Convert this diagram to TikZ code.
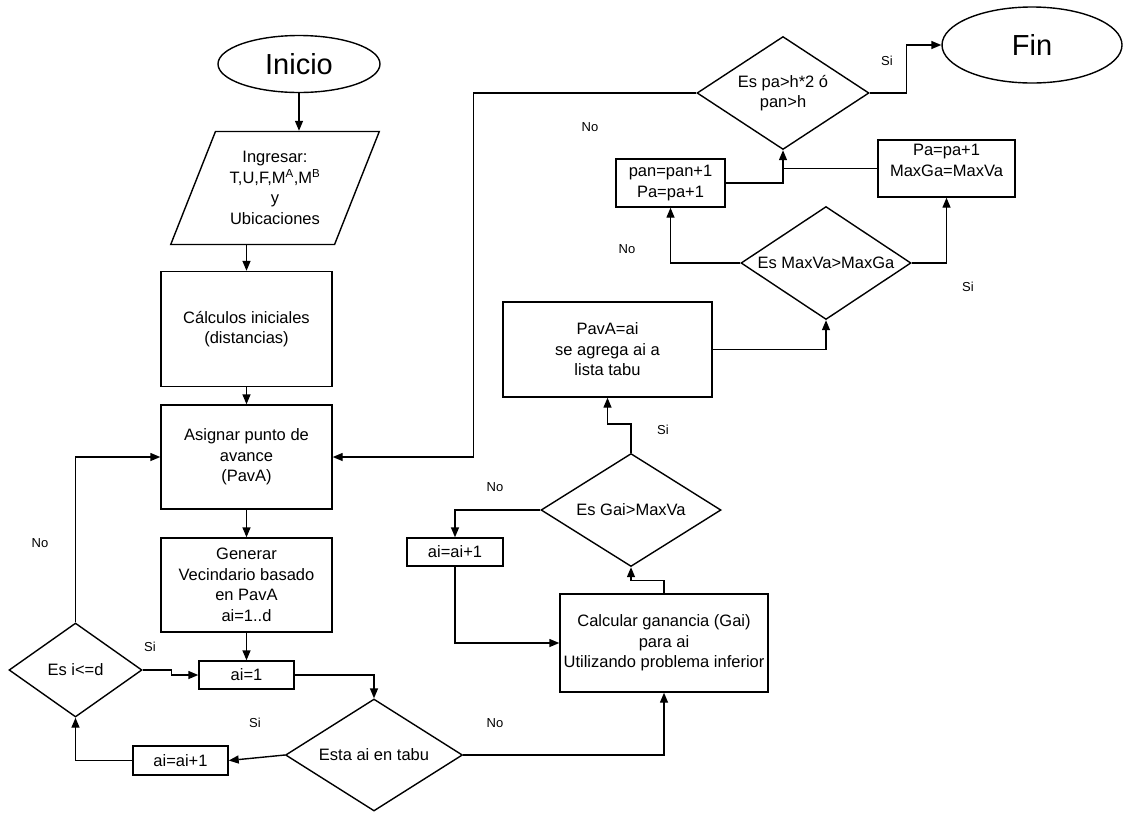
\documentclass[tikz,border=0pt]{standalone}
\usepackage{fontspec}
\setmainfont{Liberation Sans}
\usetikzlibrary{arrows.meta,shapes.geometric}

\begin{document}
\begin{tikzpicture}[
    x=1pt, y=-1pt,
    line width=1.4pt,
    every node/.style={font=\fontsize{16.5}{20.5}\selectfont, align=center},
    term/.style={ellipse, draw, inner sep=0pt, font=\fontsize{29}{32}\selectfont},
    proc/.style={rectangle, draw, inner sep=2pt},
    dec/.style={diamond, draw, inner sep=0pt, shape aspect=1.5},
    io/.style={trapezium, draw, trapezium left angle=65, trapezium right angle=115,
               trapezium stretches=true, inner sep=0pt},
    e/.style={-{Triangle[length=10pt, width=8pt]}},
    lbl/.style={font=\fontsize{13}{15}\selectfont, inner sep=0pt},
  ]
  \useasboundingbox (0,0) rectangle (1147,812);
  % left column
  \node[term, minimum width=162, minimum height=57] (inicio) at (299,64) {Inicio};
  \node[io, minimum width=209, minimum height=113] (ingreso) at (275,188)
    {Ingresar:\\T,U,F,M\textsuperscript{A},M\textsuperscript{B}\\y\\Ubicaciones};
  \node[proc, minimum width=171, minimum height=115] (calc) at (246.5,329)
    {Cálculos iniciales\\(distancias)};
  \node[proc, minimum width=171, minimum height=104] (asig) at (246.5,457)
    {Asignar punto de\\avance\\(PavA)};
  \node[proc, minimum width=171, minimum height=94] (gen) at (246.5,585)
    {Generar\\Vecindario basado\\en PavA\\ai=1..d};
  \node[proc, minimum width=95, minimum height=28] (ai1) at (246.5,675) {ai=1};
  \node[dec, minimum width=133, minimum height=94] (esid) at (75.5,670) {Es i<=d};
  \node[dec, minimum width=177, minimum height=112] (tabu) at (374,755) {Esta ai en tabu};
  \node[proc, minimum width=95, minimum height=29] (inc1) at (180.5,760.5) {ai=ai+1};
  % right part
  \node[proc, minimum width=208, minimum height=98] (calg) at (664,643)
    {Calcular ganancia (Gai)\\para ai\\Utilizando problema inferior};
  \node[dec, minimum width=180, minimum height=113] (gai) at (631,510) {Es Gai>MaxVa};
  \node[proc, minimum width=96, minimum height=28] (inc2) at (455,552) {ai=ai+1};
  \node[proc, minimum width=209, minimum height=95] (pava) at (607.5,349.5)
    {PavA=ai\\se agrega ai a\\lista tabu};
  \node[dec, minimum width=170, minimum height=113] (maxva) at (826,263) {Es MaxVa>MaxGa};
  \node[proc, minimum width=109, minimum height=48] (pan) at (670.5,183)
    {pan=pan+1\\Pa=pa+1};
  \node[proc, minimum width=137, minimum height=57] (pa) at (946.5,168.5) {};
  \node (patxt) at (946.5,160.5) {Pa=pa+1\\MaxGa=MaxVa};
  \node[dec, minimum width=172, minimum height=113] (pah) at (783,93)
    {Es pa>h*2 ó\\pan>h};
  \node[term, minimum width=180, minimum height=76] (fin) at (1032,45) {Fin};

  \draw[e] (inicio.south) -- (inicio.south |- ingreso.north);
  \draw[e] (calc.north |- ingreso.south) -- (calc.north);
  \draw[e] (calc) -- (asig);
  \draw[e] (asig) -- (gen);
  \draw[e] (gen) -- (ai1);
  \draw[e] (esid.east) -- ++(29,0) |- (ai1.west);
  \draw[e] (ai1.east) -| (tabu.north);
  \draw[e] (tabu.west) -- (inc1.east);
  \draw[e] (inc1.west) -| (esid.south);
  \draw[e] (esid.north) |- (asig.west);
  \draw[e] (tabu.east) -| (calg.south);
  \draw[e] (calg.north) -- ++(0,-13) -| (gai.south);
  \draw[e] (gai.west) -| (inc2.north);
  \draw[e] (inc2.south) |- (calg.west);
  \draw[e] (gai.north) -- ++(0,-29) -| (pava.south);
  \draw[e] (pava.east) -| (maxva.south);
  \draw[e] (maxva.west) -| (pan.south);
  \draw[e] (maxva.east) -| (pa.south);
  \draw[e] (pan.east) -| (pah.south);
  \draw (pa.west) -- (pa.west -| pah.south);
  \draw[e] (pah.east) -- ++(37,0) |- (fin.west);
  \draw[e] (pah.west) -- ++(-223,0) |- (asig.east);

  \node[lbl] (s1) at (887,61) {Si};
  \node[lbl] (n1) at (590,127) {No};
  \node[lbl] (n2) at (627,249) {No};
  \node[lbl] (s2) at (968,287) {Si};
  \node[lbl] (s3) at (663,430) {Si};
  \node[lbl] (n3) at (495,487) {No};
  \node[lbl] (n4) at (40,543) {No};
  \node[lbl] (s4) at (150,647) {Si};
  \node[lbl] (s5) at (255,723) {Si};
  \node[lbl] (n5) at (495,723) {No};
\end{tikzpicture}
\end{document}
